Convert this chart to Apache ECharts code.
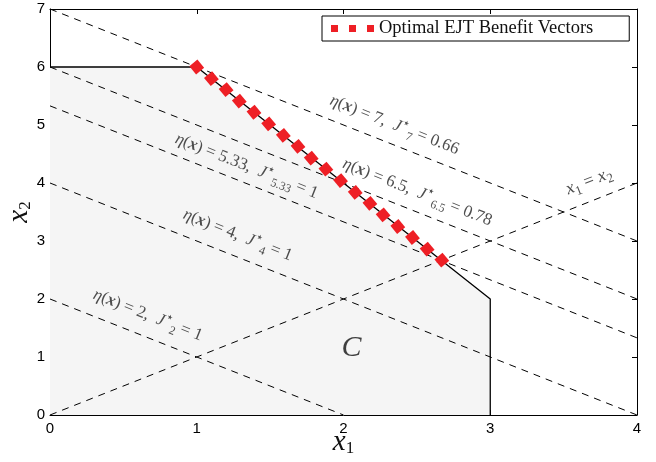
<!DOCTYPE html>
<html>
<head>
<meta charset="utf-8">
<script src="https://cdn.jsdelivr.net/npm/echarts@6/dist/echarts.min.js"></script>
<style>
html,body{margin:0;padding:0;background:#fff;}
#chart{width:656px;height:462px;}
</style>
</head>
<body>
<div id="chart"></div>
<script>
// ---- data ----
const xRange = [0, 4];
const yRange = [0, 7];
const regionC = [[0, 6], [1, 6], [3, 2], [3, 0]];
const etaValues = ['7', '6.5', '5.33', '4', '2'];
const jStarValues = ['0.66', '0.78', '1', '1', '1'];
const etaLines = [
  [[0, 7], [4, 3]],
  [[0, 6], [4, 2]],
  [[0, 5.33], [4, 1.33]],
  [[0, 4], [4, 0]],
  [[0, 2], [2, 0]]
];
const diagLine = [[0, 0], [4, 4]];
const optX = [1.00, 1.10, 1.20, 1.29, 1.39, 1.49, 1.59, 1.69, 1.78, 1.88, 1.98, 2.08, 2.18, 2.27, 2.37, 2.47, 2.57, 2.67];
const optY = [6.00, 5.80, 5.61, 5.41, 5.22, 5.02, 4.82, 4.63, 4.43, 4.24, 4.04, 3.84, 3.65, 3.45, 3.25, 3.06, 2.86, 2.67];
const legendName = 'Optimal EJT Benefit Vectors';

// ---- styling / layout ----
const SERIF = 'Liberation Serif, Times New Roman, serif';
const SANS = 'Liberation Sans, Arial, sans-serif';
const TXT = '#222';
const ANG = -Math.atan((58 / 147)) * 180 / Math.PI; // slope -1 in data → screen angle

const rich = {
  i: {fontFamily: SERIF, fontStyle: 'italic', fontSize: 17, color: TXT, lineHeight: 24},
  u: {fontFamily: SERIF, fontSize: 17, color: TXT, lineHeight: 24},
  b: {fontFamily: SERIF, fontStyle: 'italic', fontWeight: 'bold', fontSize: 17, color: TXT, lineHeight: 24},
  sup: {fontFamily: 'DejaVu Sans', fontSize: 13, color: TXT, verticalAlign: 'top', lineHeight: 13},
  sub: {fontFamily: SERIF, fontSize: 12, color: TXT, verticalAlign: 'bottom', lineHeight: 12},
  ix: {fontFamily: SERIF, fontStyle: 'italic', fontSize: 18, color: TXT, lineHeight: 24},
  ux: {fontFamily: SERIF, fontSize: 18, color: TXT, lineHeight: 24},
  subx: {fontFamily: SERIF, fontSize: 13, color: TXT, verticalAlign: 'bottom', lineHeight: 13},
  big: {fontFamily: SERIF, fontStyle: 'italic', fontSize: 30, color: '#111', lineHeight: 32}
};

function etaText(k) {
  return '{i|η}{u|(}{b|x}{u|) = ' + etaValues[k] + ',  }{i|J}{sup|⋆}{sub|' + etaValues[k] + '}{u| = ' + jStarValues[k] + '}';
}

// annotation anchors (data coordinates)
const annotations = [
  {pos: [2.347, 5.00], text: etaText(0), rot: ANG},
  {pos: [2.503, 3.84], text: etaText(1), rot: ANG},
  {pos: [1.340, 4.29], text: etaText(2), rot: ANG},
  {pos: [1.279, 3.10], text: etaText(3), rot: ANG},
  {pos: [0.667, 1.72], text: etaText(4), rot: ANG},
  {pos: [3.673, 4.03], text: '{ix|x}{subx|1}{ux| = }{ix|x}{subx|2}', rot: -ANG},
  {pos: [2.054, 1.16], text: '{big|C}', rot: 0}
];

const dashed = {color: '#000', width: 1, type: [7, 6]};

const series = [];
series.push({
  type: 'line', data: regionC, symbol: 'none', z: 1,
  lineStyle: {color: '#000', width: 1.3},
  areaStyle: {color: '#f5f5f5', opacity: 1, origin: 'start'},
  silent: true
});
etaLines.forEach(function (seg) {
  series.push({type: 'line', data: seg, symbol: 'none', z: 2, lineStyle: dashed, silent: true});
});
series.push({type: 'line', data: diagLine, symbol: 'none', z: 2, lineStyle: dashed, silent: true});
series.push({
  name: legendName, type: 'scatter', z: 5,
  data: optX.map(function (x, i) { return [x, optY[i]]; }),
  symbol: 'rect', symbolSize: 10.5, symbolRotate: 40,
  itemStyle: {color: '#ee1f25', opacity: 1}
});
series.push({
  type: 'scatter', z: 6, silent: true,
  symbolSize: 1, itemStyle: {color: 'rgba(0,0,0,0)'},
  data: annotations.map(function (a) {
    return {
      value: a.pos,
      label: {show: true, position: 'inside', rotate: a.rot, formatter: a.text, rich: rich}
    };
  })
});

const axisCommon = {
  type: 'value', interval: 1,
  axisLine: {show: true, onZero: false, lineStyle: {color: '#000', width: 1}},
  axisTick: {show: true, inside: true, length: 5, lineStyle: {color: '#000', width: 1}},
  splitLine: {show: false}
};

const nameRich = {
  i: {fontFamily: SERIF, fontStyle: 'italic', fontSize: 29, color: '#111', lineHeight: 30},
  s: {fontFamily: SERIF, fontSize: 17, color: '#111', verticalAlign: 'bottom', lineHeight: 17}
};

const option = {
  animation: false,
  backgroundColor: '#fff',
  grid: {left: 50, right: 19, top: 9, bottom: 47, containLabel: false, outerBoundsMode: 'none'},
  legend: {
    data: [{name: legendName, icon: 'path://M0,0h7v7h-7zM18,0h7v7h-7zM36,0h7v7h-7z'}],
    left: 322, top: 16,
    itemWidth: 43, itemHeight: 7, itemGap: 0, itemTextGap: 9,
    padding: [3, 36, 3, 9],
    borderColor: '#000', borderWidth: 1, backgroundColor: '#fff',
    textStyle: {fontFamily: SERIF, fontSize: 18.5, color: '#111', lineHeight: 18},
    selectedMode: false
  },
  xAxis: [
    Object.assign({}, axisCommon, {
      min: xRange[0], max: xRange[1], position: 'bottom',
      axisLabel: {color: '#000', fontFamily: SANS, fontSize: 15, margin: 6},
      name: '{i|x}{s|1}', nameLocation: 'middle', nameGap: 12, nameMoveOverlap: false,
      nameTextStyle: {rich: nameRich}
    }),
    Object.assign({}, axisCommon, {
      min: xRange[0], max: xRange[1], position: 'top',
      axisLabel: {show: false}
    })
  ],
  yAxis: [
    Object.assign({}, axisCommon, {
      min: yRange[0], max: yRange[1], position: 'left',
      axisLabel: {color: '#000', fontFamily: SANS, fontSize: 15, margin: 5},
      name: '{i|x}{s|2}', nameLocation: 'middle', nameGap: 16, nameMoveOverlap: false,
      nameTextStyle: {rich: nameRich}
    }),
    Object.assign({}, axisCommon, {
      min: yRange[0], max: yRange[1], position: 'right',
      axisLabel: {show: false}
    })
  ],
  series: series
};

const chart = echarts.init(document.getElementById('chart'), null, {renderer: 'canvas'});
chart.setOption(option);
</script>
</body>
</html>
